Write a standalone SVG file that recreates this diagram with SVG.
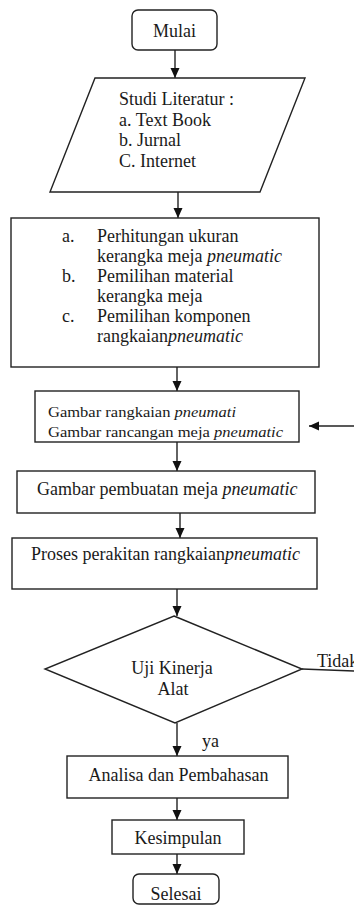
<svg xmlns="http://www.w3.org/2000/svg" width="354" height="905" viewBox="0 0 354 905">
<style>
.s{fill:#fff;stroke:#222;stroke-width:1.4}
.t{font-family:'Liberation Serif','DejaVu Serif',serif;font-size:18px;fill:#1a1a1a}
.sm{font-family:'Liberation Serif','DejaVu Serif',serif;font-size:14px;fill:#1a1a1a}
.i{font-style:italic}
.c{stroke:#222;stroke-width:1.4;fill:none}
</style>
<defs>
<marker id="ah" markerUnits="userSpaceOnUse" markerWidth="10" markerHeight="10" refX="10" refY="4.5" orient="auto">
<path d="M0,0 L10,4.5 L0,9 z" fill="#111"/>
</marker>
</defs>
<rect width="354" height="905" fill="#fff"/>
<g id="connectors">
<line class="c" x1="175" y1="50" x2="175" y2="78" marker-end="url(#ah)"/>
<line class="c" x1="178" y1="192" x2="178" y2="218" marker-end="url(#ah)"/>
<line class="c" x1="177" y1="367" x2="177" y2="391" marker-end="url(#ah)"/>
<line class="c" x1="354" y1="426" x2="309" y2="426" marker-end="url(#ah)"/>
<line class="c" x1="177" y1="442" x2="177" y2="471" marker-end="url(#ah)"/>
<line class="c" x1="180" y1="513" x2="180" y2="538" marker-end="url(#ah)"/>
<line class="c" x1="177" y1="589" x2="177" y2="616" marker-end="url(#ah)"/>
<line class="c" x1="177" y1="723" x2="177" y2="756" marker-end="url(#ah)"/>
<line class="c" x1="177" y1="798" x2="177" y2="820" marker-end="url(#ah)"/>
<line class="c" x1="177" y1="854" x2="177" y2="874" marker-end="url(#ah)"/>
<line class="c" x1="302" y1="669" x2="354" y2="671"/>
<text class="t" x="317" y="667" font-family="'Liberation Serif', serif">Tidak</text>
<text class="t" x="202" y="747" font-family="'Liberation Serif', serif">ya</text>
</g>
<g id="mulai">
<rect class="s" x="132" y="10" width="85" height="40" rx="6"/>
<text class="t" x="174.5" y="37" text-anchor="middle" font-family="'Liberation Serif', serif">Mulai</text>
</g>
<g id="studi">
<polygon class="s" points="95,78 305,78 260,192 50,192"/>
<text class="t" x="119" y="105" font-family="'Liberation Serif', serif">Studi Literatur :</text>
<text class="t" x="119" y="126" font-family="'Liberation Serif', serif">a. Text Book</text>
<text class="t" x="119" y="146" font-family="'Liberation Serif', serif">b. Jurnal</text>
<text class="t" x="119" y="167" font-family="'Liberation Serif', serif">C. Internet</text>
</g>
<g id="perhitungan">
<rect class="s" x="11" y="218" width="308" height="149"/>
<text class="t" x="62" y="242" font-family="'Liberation Serif', serif">a.</text>
<text class="t" x="97" y="242" font-family="'Liberation Serif', serif">Perhitungan ukuran</text>
<text class="t" x="97" y="262" font-family="'Liberation Serif', serif">kerangka meja <tspan class="i">pneumatic</tspan></text>
<text class="t" x="62" y="282" font-family="'Liberation Serif', serif">b.</text>
<text class="t" x="97" y="282" font-family="'Liberation Serif', serif">Pemilihan material</text>
<text class="t" x="97" y="302" font-family="'Liberation Serif', serif">kerangka meja</text>
<text class="t" x="62" y="322" font-family="'Liberation Serif', serif">c.</text>
<text class="t" x="97" y="322" font-family="'Liberation Serif', serif">Pemilihan komponen</text>
<text class="t" x="97" y="342" font-family="'Liberation Serif', serif">rangkaian<tspan class="i">pneumatic</tspan></text>
</g>
<g id="gambar-rangkaian">
<rect class="s" x="35" y="391" width="264" height="51" stroke="#444"/>
<text class="sm" x="48" y="417" textLength="188" lengthAdjust="spacingAndGlyphs" font-family="'Liberation Serif', serif">Gambar  rangkaian <tspan class="i">pneumati</tspan></text>
<text class="sm" x="48" y="437" textLength="235" lengthAdjust="spacingAndGlyphs" font-family="'Liberation Serif', serif">Gambar  rancangan  meja <tspan class="i">pneumatic</tspan></text>
</g>
<g id="gambar-pembuatan">
<rect class="s" x="17" y="471" width="298" height="42"/>
<text class="t" x="37" y="495" font-family="'Liberation Serif', serif">Gambar pembuatan meja <tspan class="i">pneumatic</tspan></text>
</g>
<g id="proses">
<rect class="s" x="12" y="538" width="305" height="51"/>
<text class="t" x="31" y="560" font-family="'Liberation Serif', serif">Proses perakitan rangkaian<tspan class="i">pneumatic</tspan></text>
</g>
<g id="uji">
<polygon class="s" points="174,616 302,669 175,723 45,669"/>
<text class="t" x="172" y="674" text-anchor="middle" font-family="'Liberation Serif', serif">Uji Kinerja</text>
<text class="t" x="173" y="695" text-anchor="middle" font-family="'Liberation Serif', serif">Alat</text>
</g>
<g id="analisa">
<rect class="s" x="67" y="756" width="221" height="42"/>
<text class="t" x="178.5" y="781" text-anchor="middle" font-family="'Liberation Serif', serif">Analisa dan Pembahasan</text>
</g>
<g id="kesimpulan">
<rect class="s" x="112" y="820" width="132" height="34"/>
<text class="t" x="178" y="844" text-anchor="middle" font-family="'Liberation Serif', serif">Kesimpulan</text>
</g>
<g id="selesai">
<rect class="s" x="133" y="874" width="86" height="30" rx="6"/>
<text class="t" x="176" y="900" text-anchor="middle" font-family="'Liberation Serif', serif">Selesai</text>
</g>
</svg>
